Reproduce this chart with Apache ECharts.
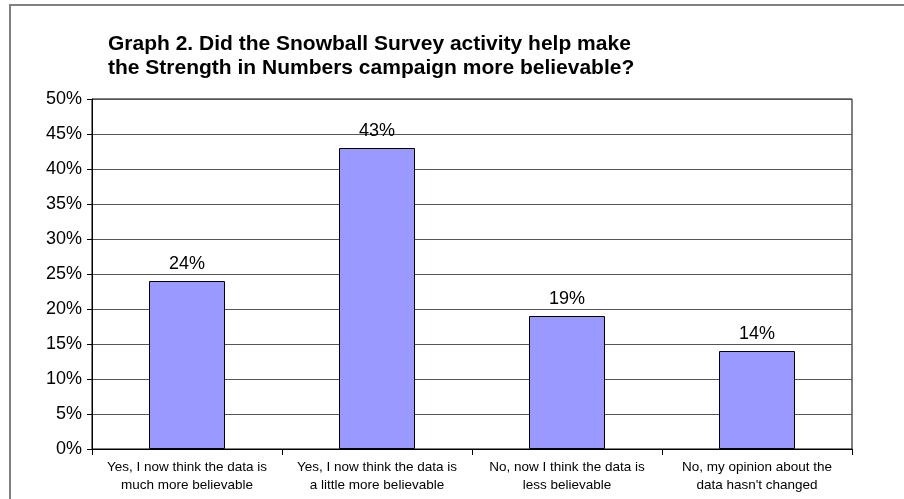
<!DOCTYPE html>
<html>
<head>
<meta charset="utf-8">
<script src="https://cdn.jsdelivr.net/npm/echarts@6/dist/echarts.min.js"></script>
<style>html,body{margin:0;padding:0;background:#fff}#c{width:904px;height:499px}</style>
</head>
<body>
<div id="c"></div>
<script>
const categories = [
  "Yes, I now think the data is\nmuch more believable",
  "Yes, I now think the data is\na little more believable",
  "No, now I think the data is\nless believable",
  "No, my opinion about the\ndata hasn't changed"
];
const values = [24, 43, 19, 14];
const titleLines = [
  "Graph 2. Did the Snowball Survey activity help make",
  "the Strength in Numbers campaign more believable?"
];

const chart = echarts.init(document.getElementById('c'), null, {renderer: 'canvas'});
const font = 'Liberation Sans, Arial, sans-serif';
chart.setOption({
  animation: false,
  backgroundColor: '#fff',
  graphic: [{
    type: 'rect', silent: true, z: -1,
    shape: {x: 10, y: 5, width: 1000, height: 600},
    style: {fill: 'none', stroke: '#808080', lineWidth: 2}
  }],
  title: {
    text: titleLines.join('\n'),
    left: 108, top: 32, padding: 0,
    textStyle: {fontFamily: font, fontSize: 21, fontWeight: 'bold', color: '#000', lineHeight: 24}
  },
  grid: {left: 92, top: 99, width: 760, height: 350, show: true, borderColor: '#000', borderWidth: 1, backgroundColor: 'transparent'},
  xAxis: {
    type: 'category', data: categories,
    axisLine: {lineStyle: {color: '#000', width: 1}},
    axisTick: {show: true, length: 6, lineStyle: {color: '#000'}},
    axisLabel: {fontFamily: font, fontSize: 13.5, color: '#000', lineHeight: 18, margin: 9, interval: 0}
  },
  yAxis: {
    type: 'value', min: 0, max: 50, interval: 5,
    axisLine: {show: true, lineStyle: {color: '#000', width: 1}},
    axisTick: {show: true, length: 5, lineStyle: {color: '#000'}},
    axisLabel: {fontFamily: font, fontSize: 18, color: '#000', formatter: '{value}%', margin: 10},
    splitLine: {show: true, lineStyle: {color: '#555', width: 1}}
  },
  series: [{
    type: 'bar', data: values, barWidth: '40%',
    itemStyle: {color: '#9999FF', borderColor: '#000', borderWidth: 1},
    label: {show: true, position: 'top', distance: 8, formatter: '{c}%', fontFamily: font, fontSize: 18, color: '#000'}
  }]
});
</script>
</body>
</html>
